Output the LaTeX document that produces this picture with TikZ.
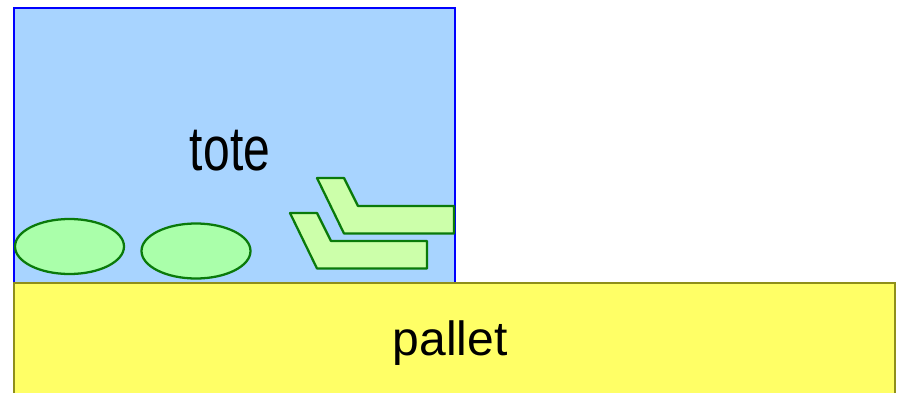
\documentclass[tikz,border=0pt]{standalone}
\usepackage{fontspec}
\setmainfont{Liberation Sans}
\definecolor{totefill}{HTML}{A8D4FF}
\definecolor{palletfill}{HTML}{FFFF66}
\definecolor{palletline}{HTML}{8F8F1A}
\definecolor{itemfill}{HTML}{AAFFAA}
\definecolor{partfill}{HTML}{CCFFAA}
\definecolor{itemline}{HTML}{0A7A0A}
\newcommand{\bentpart}[2] % top left corner x, y in px
{
	\draw[itemline, line width=1.7pt, fill=partfill, line join=round] (#1,#2) -- (#1+27,#2) -- (#1+41,#2+28) -- (#1+137,#2+28) -- (#1+137,#2+55.5) -- (#1+27,#2+55.5) -- cycle;
}
\newcommand{\roundpart}[2] % centre x, y in px
{
	\draw[itemline, line width=1.7pt, fill=itemfill] (#1,#2) ellipse [x radius=54.5, y radius=27.5];
}
\begin{document}
\begin{tikzpicture}[x=0.75pt, y=-0.75pt, every node/.style={font=\fontsize{36}{40}\selectfont, inner sep=0pt}]
	% page in px, 898 x 392
	\useasboundingbox (0,0) rectangle (898,392);
	\clip (0,0) rectangle (898,392);
	% tote
	\draw[blue, line width=1.5pt, fill=totefill] (14,8) rectangle (455,283);
	\node[anchor=base, yscale=1.3] (tote) at (230,170) {tote};
	% items in the tote
	\roundpart{69.5}{246.5};
	\roundpart{196}{251};
	\bentpart{290}{213};
	\bentpart{317}{178};
	% pallet
	\draw[palletline, line width=1.5pt, fill=palletfill] (14,283) rectangle (895,400);
	\node[anchor=base] (pallet) at (450,355) {pallet};
\end{tikzpicture}
\end{document}
